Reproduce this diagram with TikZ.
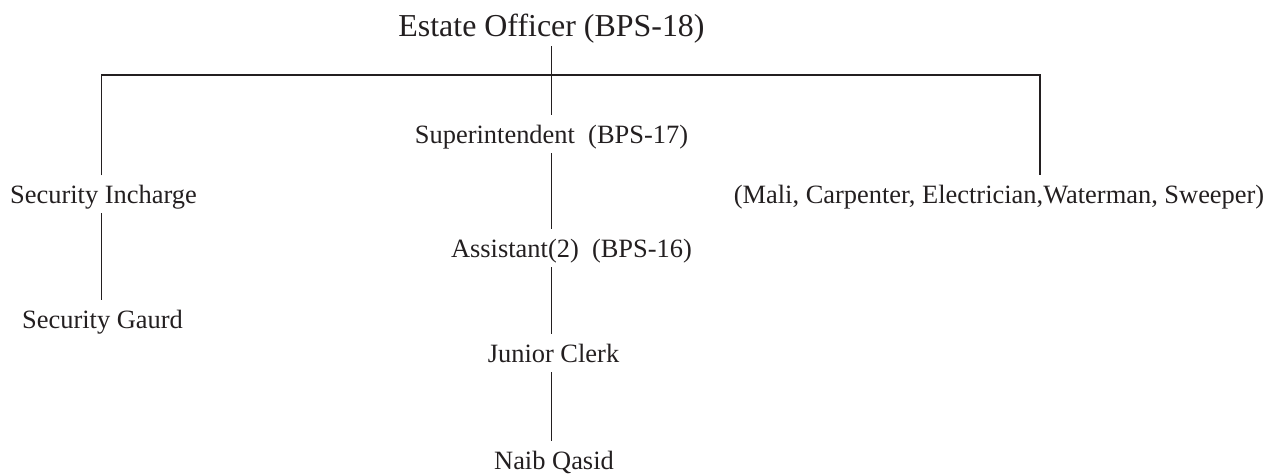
\documentclass[tikz,border=0pt]{standalone}
\usepackage{fontspec}
\setmainfont{Liberation Serif}
\usetikzlibrary{positioning}

\definecolor{ink}{RGB}{35,31,32}

\tikzset{
    post/.style={anchor=base, text=ink, font=\fontsize{18.8}{22}\selectfont,
        text height=12.4pt, text depth=0pt, inner xsep=0pt, inner ysep=0.25cm},
    head/.style={post, font=\fontsize{22.7}{27}\selectfont, text height=14.9pt},
    link/.style={draw=ink, line width=1.3pt}
}

\begin{document}
\begin{tikzpicture}[x=0.025cm,y=-0.025cm]
    \useasboundingbox (0,0) rectangle (1280,474);

    \node[head] (eo) at (551.5,36) {Estate Officer (BPS-18)};

    \node[post] (sup) at (551.5,143) {Superintendent\ \ (BPS-17)};
    \node[post] (asst) at (571.5,257) {Assistant(2)\ \ (BPS-16)};
    \node[post] (jc) at (553.5,362) {Junior Clerk};
    \node[post] (nq) at (554,469) {Naib Qasid};

    \node[post] (si) at (103.5,203) {Security Incharge};
    \node[post] (sg) at (102.5,328) {Security Gaurd};

    \node[post] (staff) at (999,203) {(Mali, Carpenter, Electrician,Waterman, Sweeper)};

    % the bar below the officer
    \coordinate (barL) at (101.5,75);
    \coordinate (barR) at (1040,75);

    \draw[link] (eo.south) -- (sup.north);
    \draw[link] (barL |- si.north) -- (barL) -- (barR) -- (barR |- staff.north);
    \draw[link] (barL |- si.south) -- (barL |- sg.north);

    \draw[link] (sup.south) -- (sup.south |- asst.north);
    \draw[link] (sup.south |- asst.south) -- (sup.south |- jc.north);
    \draw[link] (sup.south |- jc.south) -- (sup.south |- nq.north);
\end{tikzpicture}
\end{document}
